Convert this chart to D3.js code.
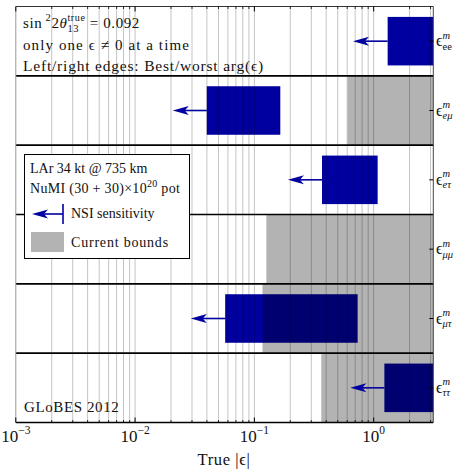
<!DOCTYPE html>
<html><head><meta charset="utf-8">
<script src="https://cdn.jsdelivr.net/npm/d3@7"></script>
<style>
html,body{margin:0;padding:0;background:#fff;}
text{font-family:'Liberation Serif','Times New Roman',serif;fill:#111;white-space:pre;}
</style></head>
<body>
<svg id="c" width="456" height="469"></svg>
<script>
// ---- data ----
const rowKeys   = ["ee", "eμ", "eτ", "μμ", "μτ", "ττ"];
const boundLo   = [null, 0.605, null, 0.126, 0.117, 0.364];   // current bounds (left edge; extend beyond plot)
const boxLo     = [1.31, 0.0399, 0.369, null, 0.0569, 1.23];   // best arg(eps)
const boxHi     = [4.0, 0.165, 1.08, null, 0.734, 4.0];        // worst arg(eps)
const arrowTip  = [0.671, 0.0207, 0.191, null, 0.0293, 0.637];
const xDomain   = [1e-3, Math.pow(10, 0.5)];
const majorTicks = [1e-3, 1e-2, 1e-1, 1e0];
const majorExp   = ["−3", "−2", "−1", "0"];

const svg = d3.select("#c");
const L = 15.8, R = 433.3, T = 6.5, B = 422.5;
const x = d3.scaleLog().domain(xDomain).range([L, R]);
const y = d3.scaleBand().domain(rowKeys).range([T, B]).paddingInner(0).paddingOuter(0);
const BLUE = "#0000a0", GRAY = "#b3b3b3";

svg.append("clipPath").attr("id","pc").append("rect").attr("x",L).attr("y",T).attr("width",R-L).attr("height",B-T);
const plot = svg.append("g").attr("clip-path","url(#pc)").style("isolation","isolate");

// rich text helper
function rich(parent, x0, y0, segs, anchor, ls) {
  const g = parent.append("g");
  if (ls) g.attr("letter-spacing", ls);
  let cx = 0, stackStart = 0;
  segs.forEach(s => {
    const sx = s.stack ? stackStart : cx;
    const t = g.append("text").attr("x", sx).attr("y", s.dy || 0)
      .attr("font-size", s.size).text(s.t);
    if (s.italic) t.attr("font-style", "italic");
    const w = t.node().getComputedTextLength();
    if (!s.stack) { stackStart = cx; cx += w; }
    else { cx = Math.max(cx, sx + w); }
  });
  const off = anchor === "middle" ? -cx / 2 : 0;
  g.attr("transform", `translate(${x0 + off},${y0})`);
  return g;
}

// gray bounds
rowKeys.forEach((k, i) => {
  if (boundLo[i] == null) return;
  plot.append("rect").attr("x", x(boundLo[i])).attr("y", y(k))
    .attr("width", R + 20 - x(boundLo[i])).attr("height", y.bandwidth()).attr("fill", GRAY);
});

// grid lines
const gridVals = [];
for (let e = -3; e <= 0; e++) for (let m = 1; m <= 9; m++) {
  const v = m * Math.pow(10, e);
  if (v > xDomain[0] && v < xDomain[1]) gridVals.push(v);
}
plot.selectAll("line.grid").data(gridVals).enter().append("line")
  .attr("x1", d => x(d)).attr("x2", d => x(d)).attr("y1", T).attr("y2", B)
  .attr("stroke", "#c4c4c4").attr("stroke-width", 1).style("mix-blend-mode", "multiply");

// boxes + arrows
const bh = y.bandwidth() * 0.7;
rowKeys.forEach((k, i) => {
  if (boxLo[i] == null) return;
  const yc = y(k) + y.bandwidth() / 2;
  const x0 = x(boxLo[i]), x1 = x(boxHi[i]);
  plot.append("rect").attr("x", x0).attr("y", yc - bh / 2).attr("width", x1 - x0).attr("height", bh)
    .attr("fill", BLUE).style("mix-blend-mode", "multiply");
  const xt = x(arrowTip[i]);
  plot.append("line").attr("x1", xt + 10).attr("x2", x0).attr("y1", yc).attr("y2", yc)
    .attr("stroke", BLUE).attr("stroke-width", 1.6);
  plot.append("path").attr("d", `M${xt},${yc} L${xt + 16},${yc - 4.5} L${xt + 12},${yc} L${xt + 16},${yc + 4.5} Z`)
    .attr("fill", BLUE);
});

// row separator lines
const seps = rowKeys.slice(1).map(k => y(k)).concat([B]);
svg.selectAll("line.sep").data(seps).enter().append("line")
  .attr("x1", L).attr("x2", R).attr("y1", d => d).attr("y2", d => d)
  .attr("stroke", "#000").attr("stroke-width", 1.6);
// frame
svg.append("line").attr("x1", L).attr("x2", R).attr("y1", T).attr("y2", T).attr("stroke", "#333").attr("stroke-width", 1);
svg.append("line").attr("x1", L).attr("x2", L).attr("y1", T).attr("y2", B).attr("stroke", "#999").attr("stroke-width", 1);
svg.append("line").attr("x1", R).attr("x2", R).attr("y1", T).attr("y2", B).attr("stroke", "#444").attr("stroke-width", 1);

// x ticks (bottom & top)
const minorVals = gridVals.filter(v => !majorTicks.some(m => Math.abs(m - v) < 1e-12));
[[B, -1], [T, 1]].forEach(([yy, dir]) => {
  svg.selectAll(null).data(majorTicks).enter().append("line")
    .attr("x1", d => x(d)).attr("x2", d => x(d)).attr("y1", yy).attr("y2", yy + dir * 5)
    .attr("stroke", "#000").attr("stroke-width", 1);
  svg.selectAll(null).data(minorVals).enter().append("line")
    .attr("x1", d => x(d)).attr("x2", d => x(d)).attr("y1", yy).attr("y2", yy + dir * 2.5)
    .attr("stroke", "#000").attr("stroke-width", 0.8);
});
// right ticks at row centres
svg.selectAll(null).data(rowKeys).enter().append("line")
  .attr("x1", R - 4).attr("x2", R).attr("y1", d => y(d) + y.bandwidth() / 2).attr("y2", d => y(d) + y.bandwidth() / 2)
  .attr("stroke", "#000").attr("stroke-width", 1);

// x tick labels
majorTicks.forEach((v, i) => {
  rich(svg, x(v), 442, [{ t: "10", size: 17 }, { t: majorExp[i], size: 11.5, dy: -8 }], "middle");
});
// x title
rich(svg, 224, 465, [{ t: "True |", size: 16.5 }, { t: "ϵ", size: 16.5 }, { t: "|", size: 16.5 }], "middle", 0.6);

// row labels
rowKeys.forEach(k => {
  const yc = y(k) + y.bandwidth() / 2;
  rich(svg, 436, yc + 5, [
    { t: "ϵ", size: 16 },
    { t: "m", size: 10.5, dy: -7.5, italic: true },
    { t: k, size: 10.5, dy: 3.5, stack: true, italic: /[μτ]/.test(k) }
  ]);
});

// annotations top-left
rich(svg, 23, 28, [
  { t: "sin", size: 15 }, { t: " 2", size: 10.5, dy: -7 }, { t: "2", size: 15 }, { t: "θ", size: 15, italic: true },
  { t: "13", size: 10.5, dy: 4 }, { t: "true", size: 10, dy: -7, stack: true }, { t: " = 0.092", size: 15 }
], null, 0.6);
rich(svg, 23, 49.5, [{ t: "only one ", size: 15 }, { t: "ϵ", size: 15 }, { t: " ≠ 0 at a time", size: 15 }], null, 1.1);
rich(svg, 23, 71, [{ t: "Left/right edges: Best/worst arg(", size: 15.5 }, { t: "ϵ", size: 15.5 }, { t: ")", size: 15.5 }], null, 0.8);

// GLoBES
rich(svg, 24, 412, [{ t: "GLoBES 2012", size: 15 }], null, 0.6);

// legend
const lg = svg.append("g");
lg.append("rect").attr("x", 24.5).attr("y", 154.5).attr("width", 165).attr("height", 104)
  .attr("fill", "#fff").attr("stroke", "#000").attr("stroke-width", 1);
rich(lg, 30, 173, [{ t: "LAr 34 kt @ 735 km", size: 14 }]);
rich(lg, 30, 193, [{ t: "NuMI (30 + 30)", size: 14 }, { t: "×", size: 14 }, { t: "10", size: 14 }, { t: "20", size: 10, dy: -6.5 }, { t: " pot", size: 14 }], null, 0.3);
const ly = 214;
lg.append("line").attr("x1", 42).attr("x2", 63).attr("y1", ly).attr("y2", ly).attr("stroke", BLUE).attr("stroke-width", 1.6);
lg.append("path").attr("d", `M32,${ly} L48,${ly - 4.5} L44,${ly} L48,${ly + 4.5} Z`).attr("fill", BLUE);
lg.append("line").attr("x1", 63).attr("x2", 63).attr("y1", 204).attr("y2", 224).attr("stroke", BLUE).attr("stroke-width", 1.6);
rich(lg, 71, 218, [{ t: "NSI sensitivity", size: 14 }]);
lg.append("rect").attr("x", 31).attr("y", 232).attr("width", 33).attr("height", 20).attr("fill", GRAY);
rich(lg, 71, 247, [{ t: "Current bounds", size: 14 }], null, 0.8);
</script>
</body></html>
